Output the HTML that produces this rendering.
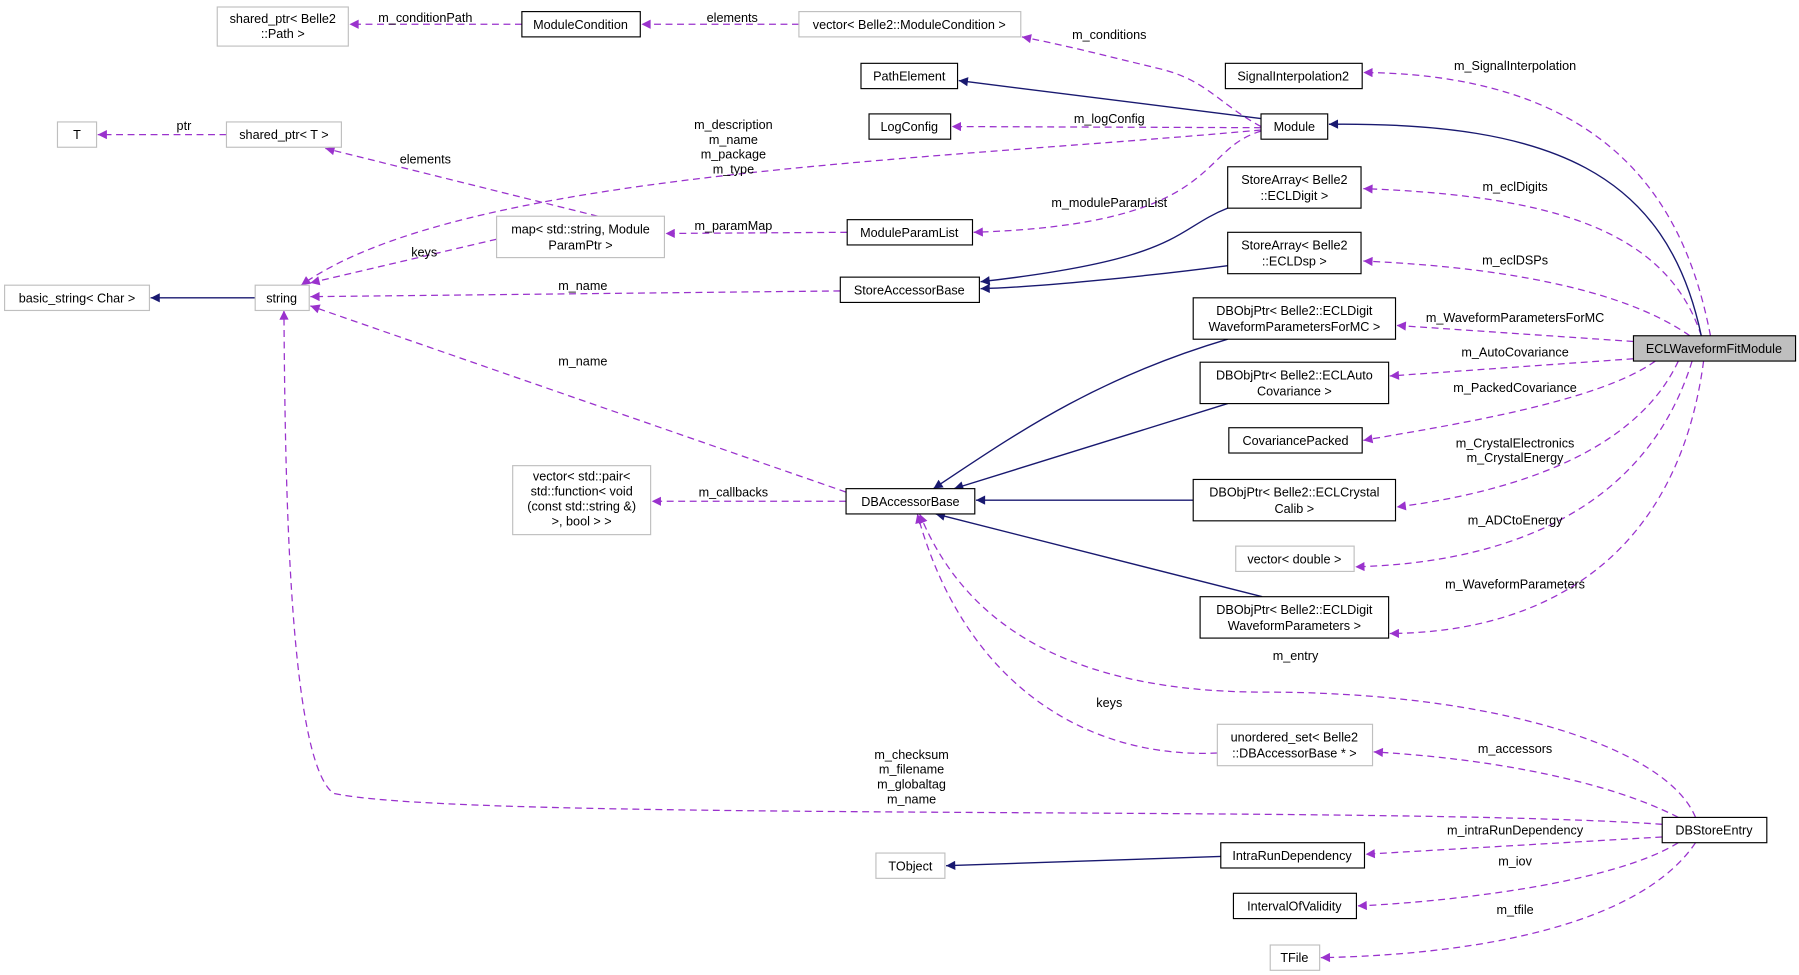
<!DOCTYPE html>
<html><head><meta charset="utf-8"><style>
html,body{margin:0;padding:0;background:#fff;width:1799px;height:975px;overflow:hidden}
svg text{font-family:"Liberation Sans",Arial,sans-serif;font-size:11px;fill:#000}
</style></head><body>
<svg width="1799" height="975" viewBox="0 0 1565 848" xmlns="http://www.w3.org/2000/svg">
<defs>
<marker id="p" viewBox="0 0 10 10" refX="10" refY="5" markerWidth="10" markerHeight="8" orient="auto" markerUnits="userSpaceOnUse"><path d="M0,0 L10,5 L0,10 z" fill="#9a32cd"/></marker>
<marker id="n" viewBox="0 0 10 10" refX="10" refY="5" markerWidth="10" markerHeight="8" orient="auto" markerUnits="userSpaceOnUse"><path d="M0,0 L10,5 L0,10 z" fill="#191970"/></marker>
</defs>
<g fill="none" stroke="#9a32cd" stroke-dasharray="6,4" stroke-width="1.1" marker-end="url(#p)">
<path d="M454,21 L304,21"/>
<path d="M695,21 L558,21"/>
<path d="M1097,110 C1060,90 1050,70 1010,60 C960,48 930,40 889,32"/>
<path d="M1488,292 C1470,200 1420,65 1186,63"/>
<path d="M1097,111 L828,110"/>
<path d="M1097,113 C800,140 400,150 262,248"/>
<path d="M197,117 L85,117"/>
<path d="M520,188 L283,129"/>
<path d="M432,208 L270,246"/>
<path d="M737,202 L579,203"/>
<path d="M1097,114 C1040,130 1065,195 847,202"/>
<path d="M1480,292 C1450,200 1350,170 1186,164"/>
<path d="M1470,292 C1410,250 1300,232 1186,227"/>
<path d="M731,253 L270,258"/>
<path d="M1421,297 L1215,283"/>
<path d="M1421,312 L1209,327"/>
<path d="M1440,314 C1390,350 1260,370 1186,383"/>
<path d="M1460,314 C1420,400 1300,430 1215,441"/>
<path d="M1472,314 C1430,450 1300,490 1179,493"/>
<path d="M1482,314 C1460,480 1350,550 1209,551"/>
<path d="M736,428 L270,266"/>
<path d="M736,436 L567,436"/>
<path d="M1475,711 C1450,650 1300,602 1100,602 C900,602 830,520 800,447"/>
<path d="M1059,655 C950,660 840,600 798,447"/>
<path d="M1460,711 C1400,680 1300,660 1195,654"/>
<path d="M1446,717 C1200,700 400,715 290,690 C250,660 248,400 247,270"/>
<path d="M1446,728 L1188,743"/>
<path d="M1460,733 C1400,770 1250,785 1181,788"/>
<path d="M1475,733 C1430,800 1300,830 1149,833"/>
</g>
<g fill="none" stroke="#191970" stroke-width="1.2" marker-end="url(#n)">
<path d="M1097,103 L834,70"/>
<path d="M1480,292 C1450,150 1350,106 1156,108"/>
<path d="M1068,181 C1020,200 1030,225 853,245"/>
<path d="M1068,231 C1000,240 900,250 853,251"/>
<path d="M222,259 L131,259"/>
<path d="M1068,295 C950,330 880,380 812,425"/>
<path d="M1068,351 L830,425"/>
<path d="M1038,435 L849,435"/>
<path d="M1098,519 L814,447"/>
<path d="M1062,745 L823,753"/>
</g>
<g stroke-width="1">
<rect x="189" y="6" width="114" height="34" fill="#fff" stroke="#bfbfbf"/>
<rect x="454" y="10" width="103" height="22" fill="#fff" stroke="#000"/>
<rect x="695" y="10" width="193" height="22" fill="#fff" stroke="#bfbfbf"/>
<rect x="1066" y="55" width="119" height="22" fill="#fff" stroke="#000"/>
<rect x="749" y="55" width="84" height="22" fill="#fff" stroke="#000"/>
<rect x="756" y="99" width="71" height="22" fill="#fff" stroke="#000"/>
<rect x="1097" y="99" width="58" height="22" fill="#fff" stroke="#000"/>
<rect x="50" y="106" width="34" height="22" fill="#fff" stroke="#bfbfbf"/>
<rect x="197" y="106" width="100" height="22" fill="#fff" stroke="#bfbfbf"/>
<rect x="1068" y="145" width="116" height="36" fill="#fff" stroke="#000"/>
<rect x="432" y="188" width="146" height="36" fill="#fff" stroke="#bfbfbf"/>
<rect x="737" y="191" width="109" height="22" fill="#fff" stroke="#000"/>
<rect x="1068" y="202" width="116" height="36" fill="#fff" stroke="#000"/>
<rect x="4" y="248" width="126" height="22" fill="#fff" stroke="#bfbfbf"/>
<rect x="222" y="248" width="47" height="22" fill="#fff" stroke="#bfbfbf"/>
<rect x="731" y="241" width="121" height="22" fill="#fff" stroke="#000"/>
<rect x="1038" y="259" width="176" height="36" fill="#fff" stroke="#000"/>
<rect x="1421" y="292" width="141" height="22" fill="#bfbfbf" stroke="#000"/>
<rect x="1044" y="315" width="164" height="36" fill="#fff" stroke="#000"/>
<rect x="1069" y="372" width="116" height="22" fill="#fff" stroke="#000"/>
<rect x="446" y="405" width="120" height="60" fill="#fff" stroke="#bfbfbf"/>
<rect x="736" y="425" width="112" height="22" fill="#fff" stroke="#000"/>
<rect x="1038" y="417" width="176" height="36" fill="#fff" stroke="#000"/>
<rect x="1075" y="475" width="103" height="22" fill="#fff" stroke="#bfbfbf"/>
<rect x="1044" y="519" width="164" height="36" fill="#fff" stroke="#000"/>
<rect x="1059" y="630" width="135" height="36" fill="#fff" stroke="#bfbfbf"/>
<rect x="1446" y="711" width="91" height="22" fill="#fff" stroke="#000"/>
<rect x="762" y="742" width="60" height="22" fill="#fff" stroke="#bfbfbf"/>
<rect x="1062" y="733" width="125" height="22" fill="#fff" stroke="#000"/>
<rect x="1073" y="777" width="107" height="22" fill="#fff" stroke="#000"/>
<rect x="1105" y="822" width="43" height="22" fill="#fff" stroke="#bfbfbf"/>
</g>
<g text-anchor="middle">
<text x="246" y="20">shared_ptr&lt; Belle2</text><text x="246" y="33">::Path &gt;</text>
<text x="505" y="25">ModuleCondition</text>
<text x="791" y="25">vector&lt; Belle2::ModuleCondition &gt;</text>
<text x="1125" y="70">SignalInterpolation2</text>
<text x="791" y="70">PathElement</text>
<text x="791" y="114">LogConfig</text>
<text x="1126" y="114">Module</text>
<text x="67" y="121">T</text>
<text x="247" y="121">shared_ptr&lt; T &gt;</text>
<text x="1126" y="160">StoreArray&lt; Belle2</text><text x="1126" y="174">::ECLDigit &gt;</text>
<text x="505" y="203">map&lt; std::string, Module</text><text x="505" y="217">ParamPtr &gt;</text>
<text x="791" y="206">ModuleParamList</text>
<text x="1126" y="217">StoreArray&lt; Belle2</text><text x="1126" y="231">::ECLDsp &gt;</text>
<text x="67" y="263">basic_string&lt; Char &gt;</text>
<text x="245" y="263">string</text>
<text x="791" y="256">StoreAccessorBase</text>
<text x="1126" y="274">DBObjPtr&lt; Belle2::ECLDigit</text><text x="1126" y="288">WaveformParametersForMC &gt;</text>
<text x="1491" y="307">ECLWaveformFitModule</text>
<text x="1126" y="330">DBObjPtr&lt; Belle2::ECLAuto</text><text x="1126" y="344">Covariance &gt;</text>
<text x="1127" y="387">CovariancePacked</text>
<text x="506" y="418">vector&lt; std::pair&lt;</text><text x="506" y="431">std::function&lt; void</text><text x="506" y="444">(const std::string &amp;)</text><text x="506" y="457">&gt;, bool &gt; &gt;</text>
<text x="792" y="440">DBAccessorBase</text>
<text x="1126" y="432">DBObjPtr&lt; Belle2::ECLCrystal</text><text x="1126" y="446">Calib &gt;</text>
<text x="1126" y="490">vector&lt; double &gt;</text>
<text x="1126" y="534">DBObjPtr&lt; Belle2::ECLDigit</text><text x="1126" y="548">WaveformParameters &gt;</text>
<text x="1126" y="645">unordered_set&lt; Belle2</text><text x="1126" y="659">::DBAccessorBase * &gt;</text>
<text x="1491" y="726">DBStoreEntry</text>
<text x="792" y="757">TObject</text>
<text x="1124" y="748">IntraRunDependency</text>
<text x="1126" y="792">IntervalOfValidity</text>
<text x="1126" y="837">TFile</text>
<text x="370" y="19">m_conditionPath</text>
<text x="637" y="19">elements</text>
<text x="965" y="34">m_conditions</text>
<text x="1318" y="61">m_SignalInterpolation</text>
<text x="965" y="107">m_logConfig</text>
<text x="638" y="112">m_description</text><text x="638" y="125">m_name</text><text x="638" y="138">m_package</text><text x="638" y="151">m_type</text>
<text x="160" y="113">ptr</text>
<text x="370" y="142">elements</text>
<text x="369" y="223">keys</text>
<text x="638" y="200">m_paramMap</text>
<text x="965" y="180">m_moduleParamList</text>
<text x="1318" y="166">m_eclDigits</text>
<text x="1318" y="230">m_eclDSPs</text>
<text x="507" y="252">m_name</text>
<text x="1318" y="280">m_WaveformParametersForMC</text>
<text x="1318" y="310">m_AutoCovariance</text>
<text x="1318" y="341">m_PackedCovariance</text>
<text x="1318" y="389">m_CrystalElectronics</text><text x="1318" y="402">m_CrystalEnergy</text>
<text x="1318" y="456">m_ADCtoEnergy</text>
<text x="1318" y="512">m_WaveformParameters</text>
<text x="507" y="318">m_name</text>
<text x="638" y="432">m_callbacks</text>
<text x="1127" y="574">m_entry</text>
<text x="965" y="615">keys</text>
<text x="1318" y="655">m_accessors</text>
<text x="793" y="660">m_checksum</text><text x="793" y="673">m_filename</text><text x="793" y="686">m_globaltag</text><text x="793" y="699">m_name</text>
<text x="1318" y="726">m_intraRunDependency</text>
<text x="1318" y="753">m_iov</text>
<text x="1318" y="795">m_tfile</text>
</g>
</svg>
</body></html>
